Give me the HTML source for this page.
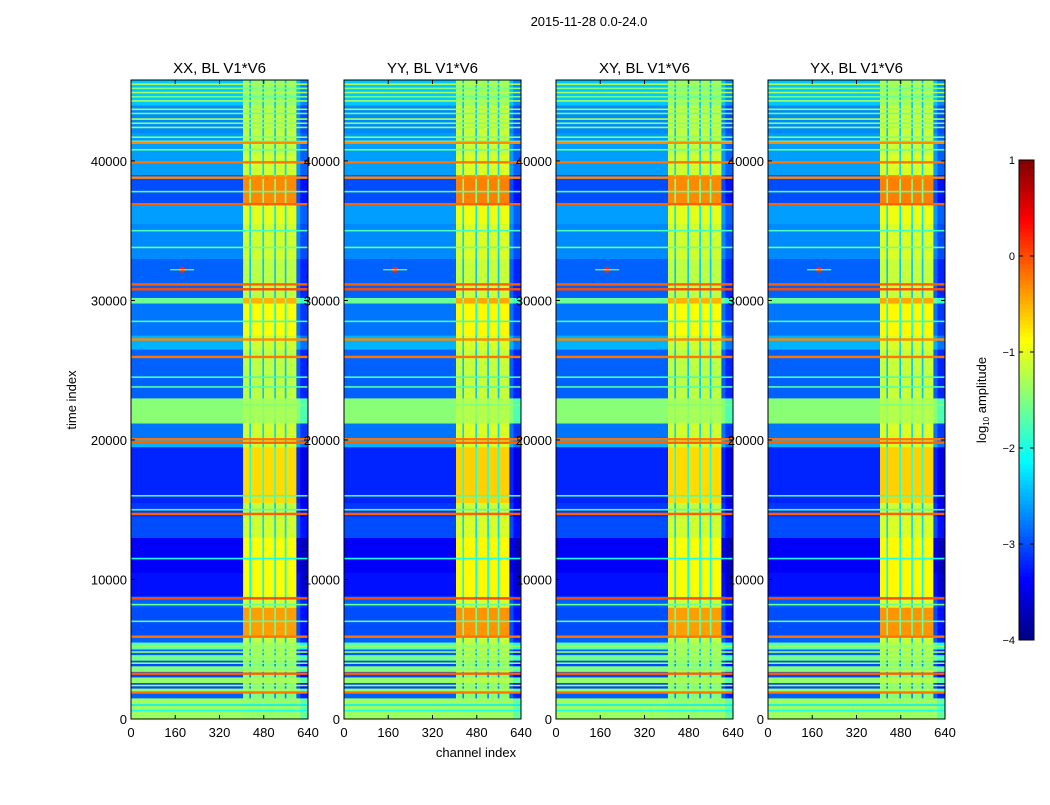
<!DOCTYPE html>
<html><head><meta charset="utf-8">
<style>
body{margin:0;background:#fff;font-family:"Liberation Sans",sans-serif;}
svg text{font-family:"Liberation Sans",sans-serif;fill:#000;}
</style></head>
<body>
<svg id="chart" width="1050" height="800" viewBox="0 0 1050 800" xmlns="http://www.w3.org/2000/svg">
<rect width="1050" height="800" fill="#fff"/>
<text x="589" y="26" font-size="13" text-anchor="middle">2015-11-28 0.0-24.0</text>
<g id="panels"></g>
<g id="cbar"></g>
<text x="476" y="757" font-size="13" text-anchor="middle">channel index</text>
<text x="76" y="400" font-size="13" text-anchor="middle" transform="rotate(-90 76 400)">time index</text>
<text x="986" y="400" font-size="13" text-anchor="middle" transform="rotate(-90 986 400)">log<tspan font-size="8" dy="3">10</tspan><tspan dy="-3"> amplitude</tspan></text>
</svg>
<script>
// ---- data ----
const panelTitles = ["XX, BL V1*V6","YY, BL V1*V6","XY, BL V1*V6","YX, BL V1*V6"];
const panelBandShift = [0, 0.05, 0, 0.05];
const timeEdges = [0,1500,1900,2200,2600,3000,3400,3800,4200,4600,5000,5500,6000,8000,8800,10500,13000,14500,15500,19500,20000,21200,23000,26500,27500,29800,30200,33000,35500,37000,39000,40500,42000,44000,45800];
const bgLevel   = [-1.35,-2.9,-1.4,-3.0,-1.4,-3.0,-1.5,-3.0,-1.6,-2.9,-1.7,-2.9,-3.0,-2.9,-3.3,-3.4,-3.0,-3.1,-3.2,-2.5,-2.8,-1.45,-2.9,-2.5,-2.8,-1.6,-2.9,-2.7,-2.6,-3.0,-2.6,-2.6,-2.7,-2.4];
const bandLevel = [-1.4,-1.5,-1.3,-1.5,-1.3,-1.5,-1.3,-1.5,-1.3,-1.3,-1.3,-1.2,-0.4,-1.1,-0.9,-0.9,-1.1,-1.2,-0.7,-1.1,-1.1,-1.3,-1.2,-1.1,-0.9,-0.5,-1.2,-1.1,-1.0,-0.3,-1.1,-1.2,-1.2,-1.4];
const chanEdges = [0,405,428,434,475,481,518,524,556,562,598,612,640];
const chanKind  = ["bg","band","dip","band","dip","band","dip","band","dip","band","bg","edge"];
const rfiTimes  = [1900,3250,5900,8650,14700,19800,20050,25950,27200,30800,31150,36900,38800,39900,41300];
const rfiLevels = [-0.2,-0.1,-0.2,0,-0.1,-0.1,-0.2,-0.2,-0.3,0,-0.1,-0.1,-0.3,-0.2,-0.3];
const thinTimes = [45500,45200,44900,44600,44300,43700,43400,43000,42700,42400,41700,41400,40800,37800,35000,33800,28500,24500,23800,22500,16000,15000,11500,8200,7000,5200,4800,4400,4000,3600,2400,1000,600];
const thinLevels= [-1.3,-1.5,-1.3,-1.6,-1.3,-1.4,-1.6,-1.3,-1.5,-1.4,-1.5,-1.6,-1.6,-1.7,-1.8,-1.6,-1.8,-1.8,-1.7,-1.5,-1.8,-1.7,-2.0,-1.6,-1.7,-1.4,-1.4,-1.5,-1.4,-1.5,-1.3,-2.2,-2.0];
const xTicks = [0,160,320,480,640];
const yTicks = [0,10000,20000,30000,40000];
const cbTicks = [-4,-3,-2,-1,0,1];

// ---- helpers ----
const NS="http://www.w3.org/2000/svg";
function jet(v){let t=(v+4)/5;t=Math.max(0,Math.min(1,t));
 const r=Math.max(0,Math.min(1,1.5-Math.abs(4*t-3))),g=Math.max(0,Math.min(1,1.5-Math.abs(4*t-2))),b=Math.max(0,Math.min(1,1.5-Math.abs(4*t-1)));
 return `rgb(${Math.round(r*255)},${Math.round(g*255)},${Math.round(b*255)})`;}
function mk(tag,attrs,parent){const e=document.createElementNS(NS,tag);for(const k in attrs)e.setAttribute(k,attrs[k]);parent.appendChild(e);return e;}
const panelsG=document.getElementById('panels');
const panelX=[131,344,556,768], PW=177, Y0=719, YTOP=80, TMAX=45800;
function yS(t){return Y0-(t/TMAX)*(Y0-YTOP);}
panelX.forEach((px,p)=>{
 const xS=c=>px+c/640*PW;
 const g=mk('g',{},panelsG);
 
 
 for(let r=0;r<timeEdges.length-1;r++){
  for(let c=0;c<chanKind.length;c++){
   let v=bgLevel[r];
   if(chanKind[c]==='band')v=bandLevel[r]+panelBandShift[p];
   else if(chanKind[c]==='dip')v=Math.max(bgLevel[r],bandLevel[r]-1.2);
   else if(chanKind[c]==='edge')v=bgLevel[r]-0.3;
   const x1=xS(chanEdges[c]),x2=xS(chanEdges[c+1]),y1=yS(timeEdges[r+1]),y2=yS(timeEdges[r]);
   const cell=mk('rect',{x:x1,y:y1,width:x2-x1+0.3,height:y2-y1+0.3,fill:jet(v)},g);
   
   
  }
 }
 thinTimes.forEach((t,i)=>{const l=mk('rect',{x:px,y:yS(t)-0.8,width:PW,height:1.6,fill:jet(thinLevels[i])},g);
  
  });
 rfiTimes.forEach((t,i)=>{const l=mk('rect',{x:px,y:yS(t)-1.2,width:PW,height:2.4,fill:jet(rfiLevels[i])},g);
  
  });
 const sp=mk('circle',{cx:xS(185),cy:yS(32200),r:3,fill:jet(0.2)},g);
 
 
 mk('rect',{x:xS(185)-12,y:yS(32200)-0.6,width:24,height:1.2,fill:jet(-1.5)},g);
 mk('rect',{x:px,y:YTOP,width:PW,height:Y0-YTOP,fill:'none',stroke:'#000','stroke-width':1},g);
 const tt=mk('text',{x:px+PW/2,y:73,'font-size':15,'text-anchor':'middle'},g);tt.textContent=panelTitles[p];
 
 
 xTicks.forEach(v=>{const x=xS(v);mk('line',{x1:x,x2:x,y1:Y0,y2:Y0-4,stroke:'#000'},g);mk('line',{x1:x,x2:x,y1:YTOP,y2:YTOP+4,stroke:'#000'},g);
  const t=mk('text',{x:x,y:737,'font-size':13,'text-anchor':'middle'},g);t.textContent=v;
  
  });
 yTicks.forEach(v=>{const y=yS(v);mk('line',{x1:px,x2:px+4,y1:y,y2:y,stroke:'#000'},g);mk('line',{x1:px+PW,x2:px+PW-4,y1:y,y2:y,stroke:'#000'},g);
  const t=mk('text',{x:px-4,y:y+5,'font-size':13,'text-anchor':'end'},g);t.textContent=v;
  
  });
});
const cb=document.getElementById('cbar');
const CX=1019,CW=15,CT=160,CB=640;
for(let i=0;i<120;i++){const v=-4+5*(i+0.5)/120;const y=CB-(i+1)*(CB-CT)/120;
 const s=mk('rect',{x:CX,y:y,width:CW,height:(CB-CT)/120+0.5,fill:jet(v)},cb);
 
 }
mk('rect',{x:CX,y:CT,width:CW,height:CB-CT,fill:'none',stroke:'#000'},cb);
cbTicks.forEach(v=>{const y=CB-(v+4)/5*(CB-CT);
 mk('line',{x1:CX,x2:CX+4,y1:y,y2:y,stroke:'#000'},cb);mk('line',{x1:CX+CW,x2:CX+CW-4,y1:y,y2:y,stroke:'#000'},cb);
 const t=mk('text',{x:CX-4,y:y+4,'font-size':11,'text-anchor':'end'},cb);t.textContent=v<0?'\u2212'+(-v):v;
 
 });
</script>
</body></html>
